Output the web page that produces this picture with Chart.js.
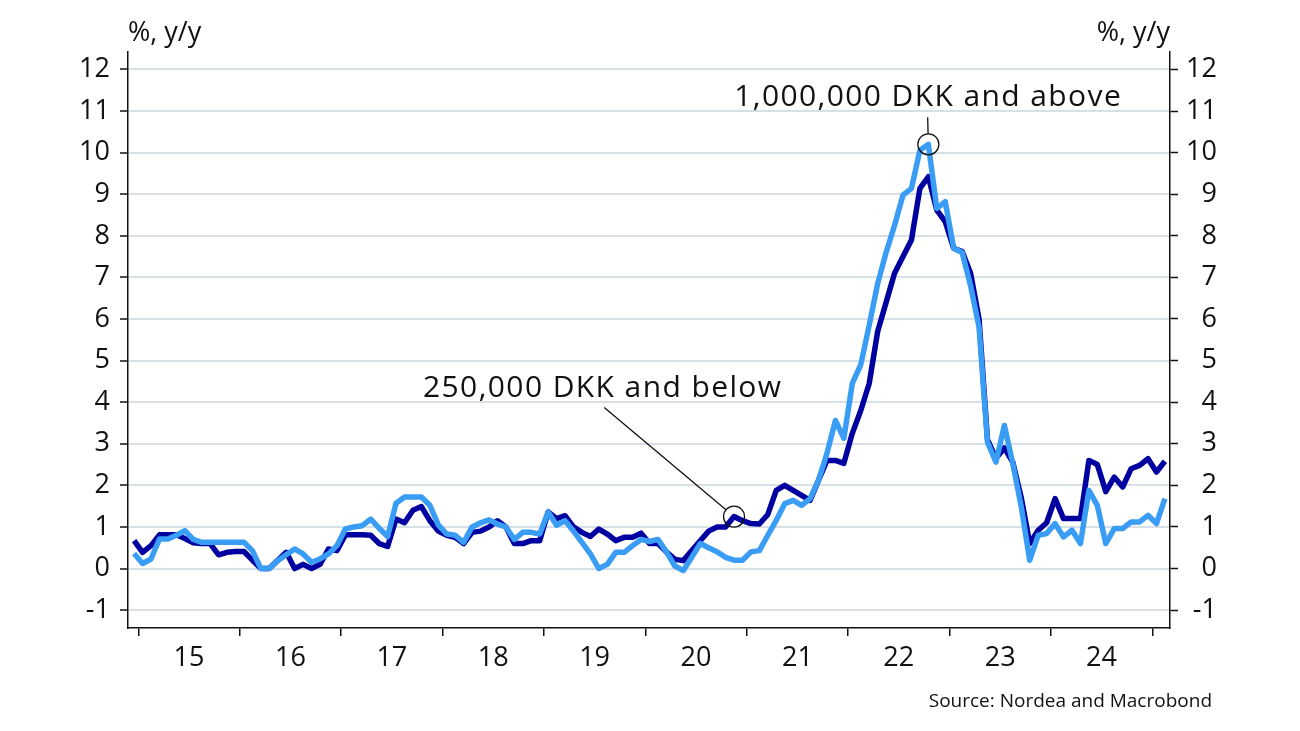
<!DOCTYPE html>
<html>
<head>
<meta charset="utf-8">
<script src="https://cdn.jsdelivr.net/npm/chart.js@4.4.0/dist/chart.umd.min.js"></script>
<style>
  html, body { margin: 0; padding: 0; background: #fff; }
  #wrap { width: 1300px; height: 731px; position: relative; }
</style>
</head>
<body>
<div id="wrap"><canvas id="priceChart"></canvas></div>
<script>
// monthly house price growth, % y/y, Dec 2014 .. Feb 2025
const firstMonth = [2014, 12];
const lastMonth = [2025, 2];

const belowValues = [
  0.67, 0.39, 0.55, 0.81, 0.81, 0.81, 0.72, 0.62, 0.60, 0.60, 0.33, 0.39, 0.41,   // 2014-12 .. 2015-12
  0.41, 0.20, 0.00, 0.00, 0.20, 0.39, 0.00, 0.10, 0.00, 0.10, 0.47, 0.43,         // 2016
  0.81, 0.81, 0.81, 0.80, 0.60, 0.53, 1.19, 1.10, 1.40, 1.49, 1.15, 0.90,         // 2017
  0.80, 0.75, 0.60, 0.87, 0.90, 1.00, 1.15, 1.00, 0.60, 0.60, 0.67, 0.67,         // 2018
  1.36, 1.20, 1.27, 1.00, 0.87, 0.77, 0.95, 0.83, 0.67, 0.75, 0.75, 0.85,         // 2019
  0.60, 0.60, 0.40, 0.22, 0.19, 0.43, 0.67, 0.90, 1.00, 1.00, 1.25, 1.15,         // 2020
  1.08, 1.07, 1.30, 1.88, 2.00, 1.88, 1.76, 1.64, 2.12, 2.60, 2.60, 2.53,         // 2021
  3.25, 3.80, 4.45, 5.70, 6.40, 7.10, 7.50, 7.90, 9.14, 9.42, 8.62, 8.34,         // 2022
  7.70, 7.62, 7.10, 6.00, 3.10, 2.65, 2.90, 2.55, 1.70, 0.60, 0.92, 1.10,         // 2023
  1.68, 1.20, 1.20, 1.20, 2.60, 2.50, 1.85, 2.20, 1.96, 2.40, 2.48, 2.64,         // 2024
  2.32, 2.58                                                                      // 2025
];

const aboveValues = [
  0.36, 0.12, 0.23, 0.71, 0.71, 0.80, 0.91, 0.70, 0.63, 0.63, 0.63, 0.63, 0.63,
  0.63, 0.43, 0.00, 0.00, 0.19, 0.33, 0.47, 0.35, 0.15, 0.23, 0.35, 0.55,
  0.95, 1.00, 1.03, 1.19, 0.97, 0.77, 1.57, 1.72, 1.72, 1.72, 1.52, 1.05,
  0.83, 0.80, 0.63, 1.00, 1.10, 1.17, 1.07, 1.00, 0.70, 0.87, 0.87, 0.83,
  1.36, 1.04, 1.15, 0.90, 0.63, 0.35, 0.00, 0.10, 0.39, 0.39, 0.55, 0.70,
  0.65, 0.70, 0.40, 0.06, -0.05, 0.27, 0.60, 0.50, 0.40, 0.27, 0.20, 0.20,
  0.40, 0.43, 0.80, 1.16, 1.56, 1.64, 1.52, 1.68, 2.12, 2.77, 3.56, 3.13,
  4.45, 4.90, 5.85, 6.85, 7.60, 8.25, 8.98, 9.14, 10.06, 10.20, 8.66, 8.82,
  7.70, 7.60, 6.80, 5.80, 3.04, 2.56, 3.44, 2.52, 1.48, 0.20, 0.80, 0.84,
  1.08, 0.76, 0.92, 0.60, 1.88, 1.52, 0.60, 0.96, 0.96, 1.12, 1.12, 1.28,
  1.08, 1.68
];

const yearLabels = ['15', '16', '17', '18', '19', '20', '21', '22', '23', '24'];
const yTicks = [-1, 0, 1, 2, 3, 4, 5, 6, 7, 8, 9, 10, 11, 12];

const seriesNames = ['250,000 DKK and below', '1,000,000 DKK and above'];

// month list and mid-month positions on a year axis
const months = [];
for (let y = firstMonth[0], m = firstMonth[1]; y < lastMonth[0] || (y === lastMonth[0] && m <= lastMonth[1]); ) {
  months.push({ year: y, month: m });
  m++;
  if (m > 12) { m = 1; y++; }
}
const monthX = months.map(d => d.year + (d.month - 0.5) / 12);

function findMonth(y, m) {
  return months.findIndex(d => d.year === y && d.month === m);
}

// callouts: series index, month pointed at, text anchor and start of leader line (axis units)
const callouts = [
  { series: 0, at: [2020, 11], textPos: [2019.58, 4.12], lineFrom: [2019.595, 3.87] },
  { series: 1, at: [2022, 10], textPos: [2022.79, 11.11], lineFrom: [2022.785, 10.85] }
];

const font = "'Open Sans', 'DejaVu Sans', sans-serif";

const calloutPlugin = {
  id: 'callouts',
  afterDatasetsDraw(chart) {
    const { ctx, scales: { x, y } } = chart;
    const values = [belowValues, aboveValues];
    ctx.save();
    callouts.forEach(c => {
      const i = findMonth(c.at[0], c.at[1]);
      const cx = x.getPixelForValue(monthX[i]);
      const cy = y.getPixelForValue(values[c.series][i]);
      const r = 10.5;
      const lx = x.getPixelForValue(c.lineFrom[0]);
      const ly = y.getPixelForValue(c.lineFrom[1]);
      const dx = lx - cx, dy = ly - cy;
      const d = Math.hypot(dx, dy);

      ctx.strokeStyle = '#111';
      ctx.lineWidth = 1.3;
      ctx.beginPath();
      ctx.arc(cx, cy, r, 0, Math.PI * 2);
      ctx.stroke();

      ctx.beginPath();
      ctx.moveTo(lx, ly);
      ctx.lineTo(cx + dx / d * r, cy + dy / d * r);
      ctx.stroke();

      ctx.fillStyle = '#111';
      ctx.font = '30px ' + font;
      ctx.letterSpacing = '1.4px';
      ctx.textAlign = 'center';
      ctx.textBaseline = 'alphabetic';
      ctx.fillText(seriesNames[c.series], x.getPixelForValue(c.textPos[0]), y.getPixelForValue(c.textPos[1]));
      ctx.letterSpacing = '0px';
    });
    ctx.restore();
  }
};

const textPlugin = {
  id: 'extraText',
  afterDraw(chart) {
    const { ctx, chartArea } = chart;
    ctx.save();
    ctx.fillStyle = '#111';
    ctx.textBaseline = 'alphabetic';
    ctx.font = '27px ' + font;
    ctx.textAlign = 'left';
    ctx.fillText('%, y/y', chartArea.left, 41);
    ctx.textAlign = 'right';
    ctx.fillText('%, y/y', chartArea.right, 41);
    ctx.font = '19px ' + font;
    ctx.fillText('Source: Nordea and Macrobond', 1212, 707);
    ctx.restore();
  }
};

const setYTicks = scale => { scale.ticks = yTicks.map(v => ({ value: v })); };

const ctx = document.getElementById('priceChart').getContext('2d');

new Chart(ctx, {
  type: 'line',
  data: {
    datasets: [
      {
        label: seriesNames[0],
        data: belowValues.map((v, i) => ({ x: monthX[i], y: v })),
        borderColor: '#0000A0',
        borderWidth: 5.5,
        order: 1
      },
      {
        label: seriesNames[1],
        data: aboveValues.map((v, i) => ({ x: monthX[i], y: v })),
        borderColor: '#3A9DF5',
        borderWidth: 5.5,
        order: 0
      }
    ]
  },
  options: {
    responsive: true,
    maintainAspectRatio: false,
    animation: false,
    layout: { padding: { left: 0, right: 83, top: 52, bottom: 0 } },
    elements: {
      point: { radius: 0 },
      line: { tension: 0, borderJoinStyle: 'round', borderCapStyle: 'butt' }
    },
    plugins: {
      legend: { display: false },
      tooltip: { enabled: false },
      title: { display: false }
    },
    scales: {
      x: {
        type: 'linear',
        min: 2014.898,
        max: 2025.175,
        afterBuildTicks: scale => {
          const t = [];
          for (let i = 0; i <= yearLabels.length; i++) {
            t.push({ value: 2015 + i });
            if (i < yearLabels.length) t.push({ value: 2015.5 + i });
          }
          scale.ticks = t;
        },
        afterFit: scale => { scale.height = 103; },
        grid: {
          drawOnChartArea: false,
          tickLength: 8,
          lineWidth: 1.5,
          tickColor: c => (c.tick && Number.isInteger(c.tick.value)) ? '#111' : 'rgba(0,0,0,0)'
        },
        border: { display: true, color: '#111', width: 1.5 },
        ticks: {
          autoSkip: false,
          maxRotation: 0,
          padding: 6,
          color: '#111',
          font: { family: font, size: 27 },
          callback: v => Number.isInteger(v) ? '' : yearLabels[Math.floor(v) - 2015]
        }
      },
      y: {
        position: 'left',
        min: -1.43,
        max: 12.42,
        afterBuildTicks: setYTicks,
        afterFit: scale => { scale.width = 128; },
        grid: {
          color: '#D7E0E7',
          lineWidth: 2,
          tickLength: 8,
          tickColor: '#111',
          tickWidth: 1.5
        },
        border: { display: true, color: '#111', width: 1.5 },
        ticks: {
          padding: 10,
          color: '#111',
          font: { family: font, size: 27 }
        }
      },
      y2: {
        position: 'right',
        min: -1.43,
        max: 12.42,
        afterBuildTicks: setYTicks,
        afterFit: scale => { scale.width = 47; },
        grid: {
          drawOnChartArea: false,
          tickLength: 8,
          tickColor: '#111',
          tickWidth: 1.5
        },
        border: { display: true, color: '#111', width: 1.5 },
        ticks: {
          crossAlign: 'far',
          color: '#111',
          font: { family: font, size: 27 }
        }
      }
    }
  },
  plugins: [calloutPlugin, textPlugin]
});
</script>
</body>
</html>
